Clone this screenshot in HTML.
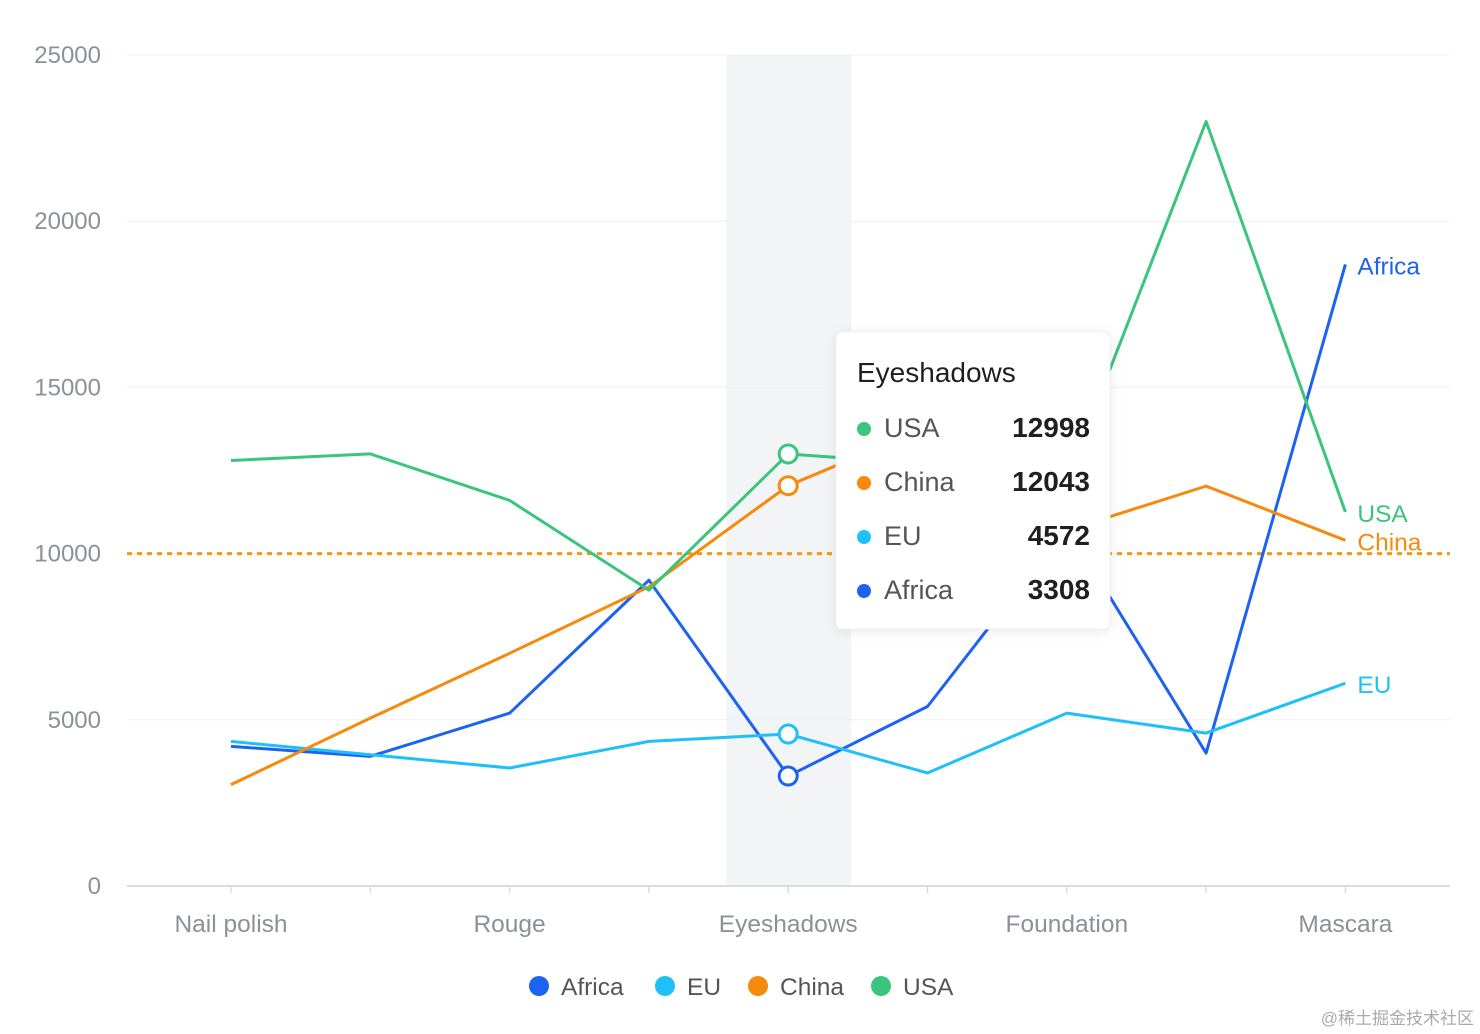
<!DOCTYPE html>
<html><head><meta charset="utf-8"><style>
html,body{margin:0;padding:0;background:#fff;width:1480px;height:1034px;overflow:hidden;font-family:"Liberation Sans","Noto Sans CJK SC",sans-serif}
</style></head><body>
<svg id="chart" width="1480" height="1034" xmlns="http://www.w3.org/2000/svg" font-family="Liberation Sans, Noto Sans CJK SC, sans-serif"></svg>
<script>
const categories=["Nail polish","Lipstick","Rouge","Eyeliner","Eyeshadows","Brow pencil","Foundation","Lip gloss","Mascara"];
const africa=[4200,3900,5200,9200,3308,5400,10800,4000,18700];
const eu=[4350,3950,3550,4350,4572,3400,5200,4600,6100];
const china=[3050,5050,7000,9000,12043,13800,10700,12030,10400];
const usa=[12800,13000,11600,8900,12998,12700,12200,23000,11250];
const yTicks=[0,5000,10000,15000,20000,25000];
const refValue=10000;
const hoverIndex=4;
const NS="http://www.w3.org/2000/svg";
const svg=document.getElementById('chart');
const x0=231,xStep=139.3,yBase=886,yTop=55,yMax=25000;
const xs=i=>x0+i*xStep;
const ys=v=>yBase-(v/yMax)*(yBase-yTop);
function mk(t,a,p){const e=document.createElementNS(NS,t);for(const k in a)e.setAttribute(k,a[k]);(p||svg).appendChild(e);return e;}
let band=mk('rect',{x:xs(hoverIndex)-62,y:yTop,width:125,height:yBase-yTop,fill:'#f3f4f6'});


yTicks.forEach(v=>{
  let g=mk('line',{x1:127,x2:1450,y1:ys(v),y2:ys(v),stroke:v===0?'#d8dbe2':'#eef0f3','stroke-width':v===0?2:1});
  
  
  let t=mk('text',{x:101,y:ys(v)+8,'text-anchor':'end','font-size':24,fill:'#8c909a'});
  t.textContent=v;
  
  
});
categories.forEach((c,i)=>{
  let tk=mk('line',{x1:xs(i),x2:xs(i),y1:yBase,y2:yBase+7,stroke:'#d8dbe2','stroke-width':1.5});
  
  
  if(i%2===0){
    let t=mk('text',{x:xs(i),y:932,'text-anchor':'middle','font-size':24.5,fill:'#8c909a'});
    t.textContent=c;
    
    
  }
});
let ref=mk('line',{x1:127,x2:1450,y1:ys(refValue),y2:ys(refValue),stroke:'#f59a0c','stroke-width':3,'stroke-dasharray':'5,5'});


const series=[["Africa",africa,'#1d62f0'],["EU",eu,'#1fc0f8'],["China",china,'#f7890d'],["USA",usa,'#3bc47c']];
series.forEach(([n,d,c])=>{
  let p=mk('polyline',{points:d.map((v,i)=>xs(i)+','+ys(v)).join(' '),fill:'none',stroke:c,'stroke-width':3,'stroke-linejoin':'round'});
  
  
  let l=mk('text',{x:xs(8)+12,y:ys(d[8])+10,'font-size':24.5,fill:c});
  l.textContent=n;
  
  
});
[...series].reverse().forEach(([n,d,c])=>{
  let m=mk('circle',{cx:xs(hoverIndex),cy:ys(d[hoverIndex]),r:9,fill:'#fff',stroke:c,'stroke-width':3});
  
  
});
const tg=mk('g',{});


mk('rect',{x:836,y:332,width:274,height:297,rx:6,fill:'#fff',stroke:'#eef0f3',style:'filter:drop-shadow(0 2px 6px rgba(0,0,0,0.08))'},tg);
let tt=mk('text',{x:857,y:382,'font-size':28,fill:'#1f1f1f'},tg);tt.textContent=categories[hoverIndex];
[["USA",usa,'#3bc47c'],["China",china,'#f7890d'],["EU",eu,'#1fc0f8'],["Africa",africa,'#1d62f0']].forEach(([n,d,c],k)=>{
  const y=427+k*54;
  mk('circle',{cx:864,cy:y+2,r:7,fill:c},tg);
  let a=mk('text',{x:884,y:y+10,'font-size':27,fill:'#555'},tg);a.textContent=n;
  let b=mk('text',{x:1090,y:y+10,'font-size':28,'font-weight':'bold','text-anchor':'end',fill:'#1f1f1f'},tg);b.textContent=d[hoverIndex];
});
const lx=[539,665,758,881];
series.forEach(([n,d,c],k)=>{
  const g=mk('g',{});
  
  
  mk('circle',{cx:lx[k],cy:986,r:10,fill:c},g);
  let t=mk('text',{x:lx[k]+22,y:995,'font-size':24.5,fill:'#555'},g);t.textContent=n;
});
let wm=mk('text',{x:1474,y:1024,'text-anchor':'end','font-size':17,fill:'#aaa'});
wm.textContent='@稀土掘金技术社区';


</script>
</body></html>
